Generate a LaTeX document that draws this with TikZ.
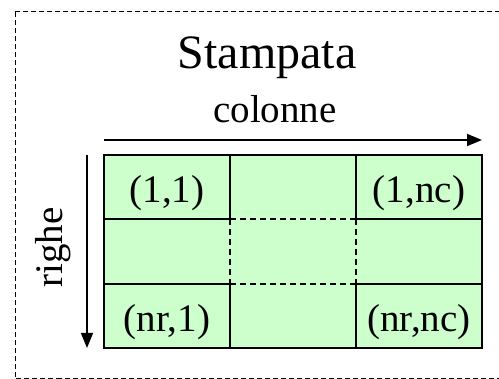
\documentclass[tikz,border=0pt]{standalone}
\usepackage{fontspec}
\setmainfont{Liberation Serif}
\usetikzlibrary{arrows.meta}
\definecolor{cellgreen}{HTML}{CCFFCC}
\tikzset{
  frame/.style={draw=black, line width=1pt, dash pattern=on 5pt off 3pt},
  gridline/.style={draw=black, line width=2pt},
  dashline/.style={draw=black, line width=1.5pt, dash pattern=on 6pt off 4pt},
  arr/.style={draw=black, line width=1.5pt, -{Triangle[length=15pt,width=12pt]}},
  celltxt/.style={font=\fontsize{39}{39}\selectfont, anchor=base, inner sep=0pt},
  labeltxt/.style={font=\fontsize{39}{39}\selectfont, anchor=base, inner sep=0pt},
  titletxt/.style={font=\fontsize{48}{48}\selectfont, anchor=base, inner sep=0pt}
}
\begin{document}
\begin{tikzpicture}[x=1pt,y=-1pt]
\useasboundingbox (0,0) rectangle (499,379);
% dashed frame
\draw[frame] (15,12) -- (520,12);
\draw[frame] (15,12) -- (15,378.5) -- (520,378.5);
% grid coordinates
\coordinate (tl) at (104,155);
\coordinate (br) at (482,348);
\fill[cellgreen] (tl) rectangle (br);
% inner dashed parts
\draw[dashline] (230,219) -- (356,219);
\draw[dashline] (230,284) -- (356,284);
\draw[dashline] (230,219) -- (230,284);
\draw[dashline] (356,219) -- (356,284);
% solid inner lines
\draw[gridline] (104,219) -- (230,219);
\draw[gridline] (356,219) -- (482,219);
\draw[gridline] (104,284) -- (230,284);
\draw[gridline] (356,284) -- (482,284);
\draw[gridline] (230,155) -- (230,219);
\draw[gridline] (356,155) -- (356,219);
\draw[gridline] (230,284) -- (230,348);
\draw[gridline] (356,284) -- (356,348);
\draw[gridline] (tl) rectangle (br);
% cell labels
\node[celltxt] (c11) at (167,203) {(1,1)};
\node[celltxt] (c1n) at (419,203) {(1,nc)};
\node[celltxt] (cn1) at (167,331.5) {(nr,1)};
\node[celltxt] (cnn) at (419,331.5) {(nr,nc)};
% arrows
\coordinate (ca) at (104,140);
\coordinate (cb) at (482,140);
\draw[arr] (ca) -- (cb);
\coordinate (ra) at (87,155);
\coordinate (rb) at (87,348);
\draw[arr] (ra) -- (rb);
% labels
\node[titletxt] (title) at (267,69) {Stampata};
\node[labeltxt] (col) at (275,123) {colonne};
\node[labeltxt, rotate=90] (row) at (63,247.5) {righe};
\end{tikzpicture}
\end{document}
